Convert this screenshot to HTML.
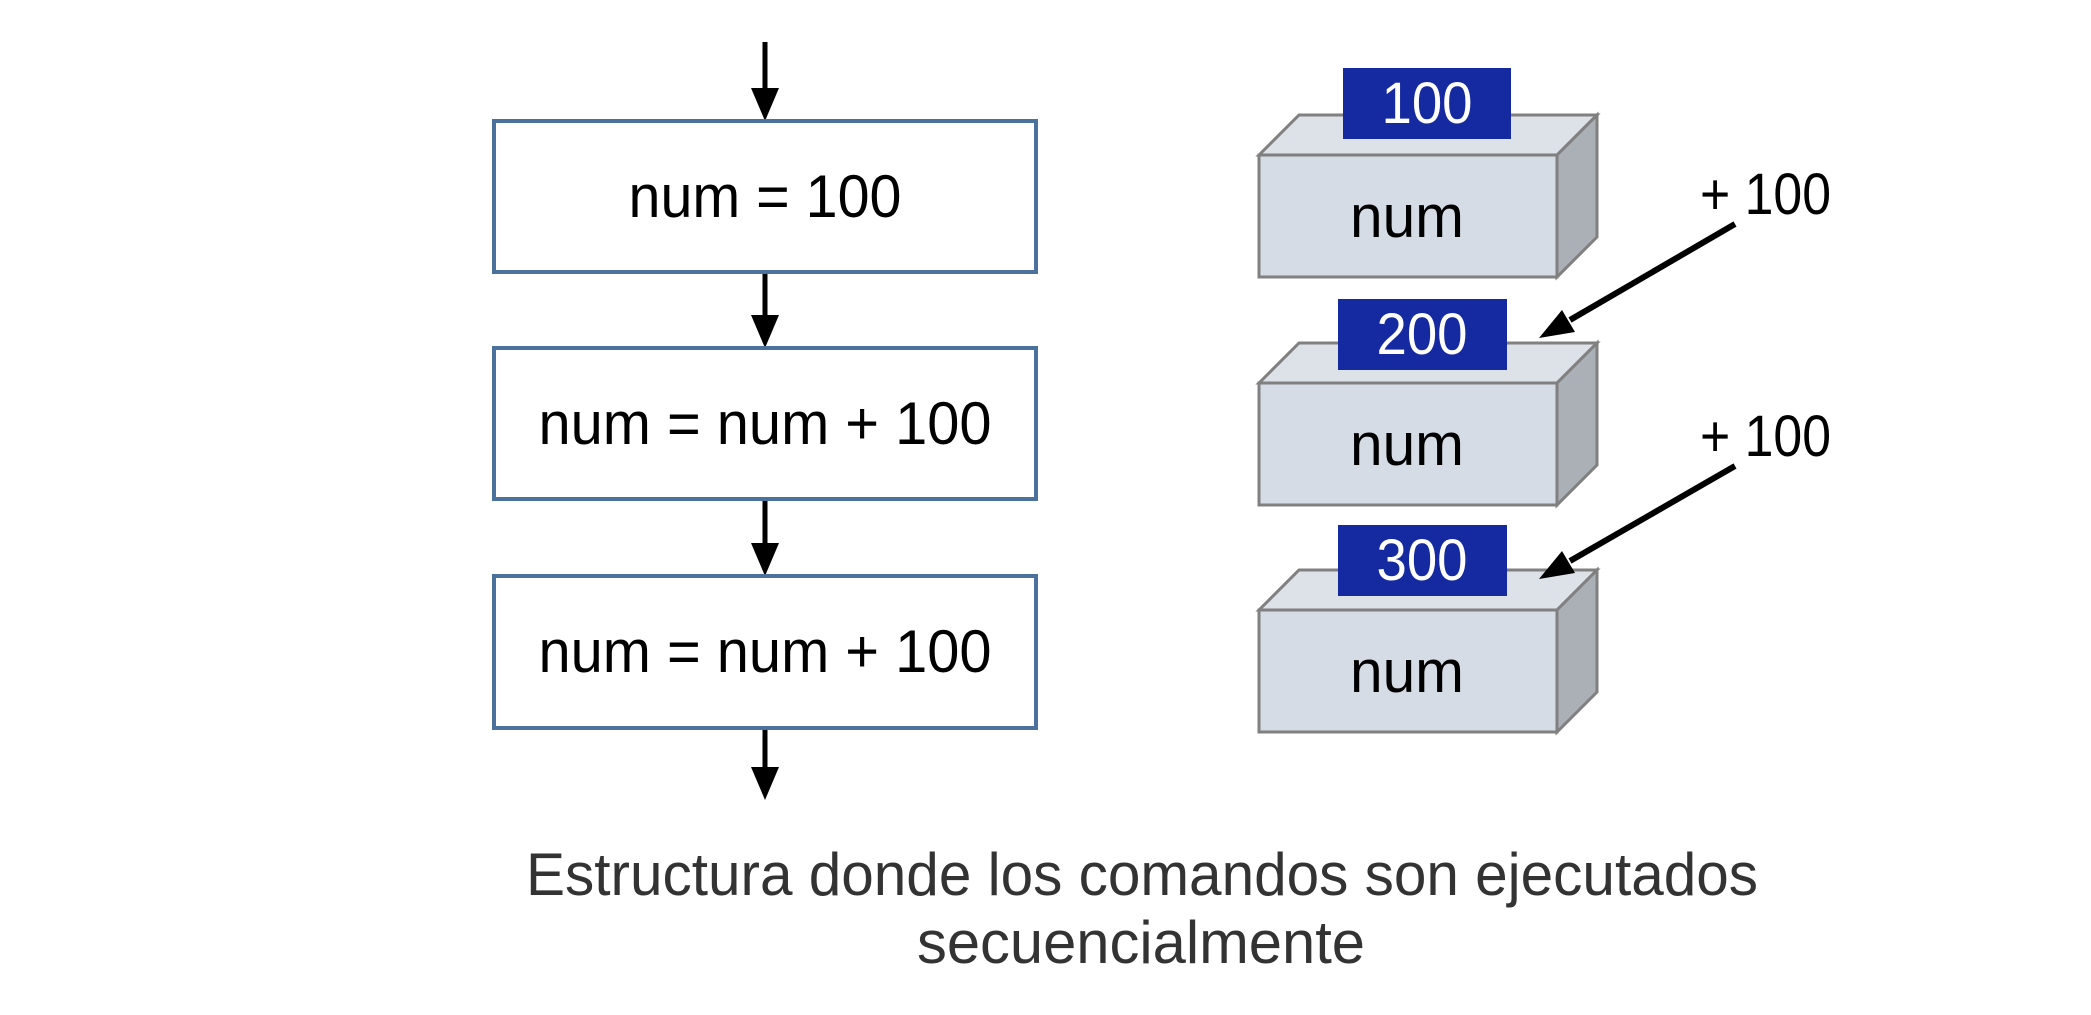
<!DOCTYPE html>
<html><head><meta charset="utf-8"><style>
html,body{margin:0;padding:0;background:#fff;width:2091px;height:1015px;overflow:hidden}
svg{display:block}
text{font-family:"Liberation Sans",sans-serif}
</style></head><body>
<svg width="2091" height="1015" viewBox="0 0 2091 1015" xmlns="http://www.w3.org/2000/svg">
<g transform="translate(-5,0)">
<!-- flow arrows -->
<g stroke="#000" stroke-width="5">
<line x1="770" y1="42" x2="770" y2="92"/>
<line x1="770" y1="272" x2="770" y2="319"/>
<line x1="770" y1="499" x2="770" y2="547"/>
<line x1="770" y1="728" x2="770" y2="771"/>
</g>
<g fill="#000">
<polygon points="756,88 784,88 770,121"/>
<polygon points="756,315 784,315 770,348"/>
<polygon points="756,543 784,543 770,576"/>
<polygon points="756,767 784,767 770,800"/>
</g>
<!-- flow boxes -->
<g fill="#fff" stroke="#4a729c" stroke-width="4">
<rect x="499" y="121" width="542" height="151"/>
<rect x="499" y="348" width="542" height="151"/>
<rect x="499" y="576" width="542" height="152"/>
</g>
<g font-size="60" fill="#000" text-anchor="middle">
<text x="770" y="217" textLength="273" lengthAdjust="spacingAndGlyphs">num = 100</text>
<text x="770" y="444" textLength="453" lengthAdjust="spacingAndGlyphs">num = num + 100</text>
<text x="770" y="672" textLength="453" lengthAdjust="spacingAndGlyphs">num = num + 100</text>
</g>
<!-- cubes -->
<g stroke="#808080" stroke-width="3">
<g>
<polygon points="1264,155 1304,115 1602,115 1562,155" fill="#dde1e8"/>
<polygon points="1562,155 1602,115 1602,237 1562,277" fill="#abb0b7"/>
<rect x="1264" y="155" width="298" height="122" fill="#d5dce5"/>
</g>
<g transform="translate(0,228)">
<polygon points="1264,155 1304,115 1602,115 1562,155" fill="#dde1e8"/>
<polygon points="1562,155 1602,115 1602,237 1562,277" fill="#abb0b7"/>
<rect x="1264" y="155" width="298" height="122" fill="#d5dce5"/>
</g>
<g transform="translate(0,455)">
<polygon points="1264,155 1304,115 1602,115 1562,155" fill="#dde1e8"/>
<polygon points="1562,155 1602,115 1602,237 1562,277" fill="#abb0b7"/>
<rect x="1264" y="155" width="298" height="122" fill="#d5dce5"/>
</g>
</g>
<g fill="#1529a0">
<rect x="1348" y="68" width="168" height="71"/>
<rect x="1343" y="299" width="169" height="71"/>
<rect x="1343" y="525" width="169" height="71"/>
</g>
<g font-size="58" fill="#fff" text-anchor="middle">
<text x="1432" y="123" textLength="91" lengthAdjust="spacingAndGlyphs">100</text>
<text x="1427" y="354" textLength="91" lengthAdjust="spacingAndGlyphs">200</text>
<text x="1427" y="580" textLength="91" lengthAdjust="spacingAndGlyphs">300</text>
</g>
<g font-size="60" fill="#000" text-anchor="middle">
<text x="1412" y="237" textLength="114" lengthAdjust="spacingAndGlyphs">num</text>
<text x="1412" y="465" textLength="114" lengthAdjust="spacingAndGlyphs">num</text>
<text x="1412" y="692" textLength="114" lengthAdjust="spacingAndGlyphs">num</text>
</g>
<!-- +100 arrows -->
<g stroke="#000" stroke-width="6">
<line x1="1740" y1="224" x2="1575" y2="320"/>
<line x1="1740" y1="466" x2="1575" y2="561"/>
</g>
<g fill="#000">
<polygon points="1544,338 1580,332 1567,310"/>
<polygon points="1544,579 1580,573 1567,551"/>
</g>
<g font-size="58" fill="#000">
<text x="1705" y="214" textLength="131" lengthAdjust="spacingAndGlyphs">+ 100</text>
<text x="1705" y="456" textLength="131" lengthAdjust="spacingAndGlyphs">+ 100</text>
</g>
<!-- caption -->
<g font-size="60" fill="#333" text-anchor="middle">
<text x="1147" y="895" textLength="1232" lengthAdjust="spacingAndGlyphs">Estructura donde los comandos son ejecutados</text>
<text x="1146" y="963" textLength="448" lengthAdjust="spacingAndGlyphs">secuencialmente</text>
</g>
</g>
</svg>
</body></html>
